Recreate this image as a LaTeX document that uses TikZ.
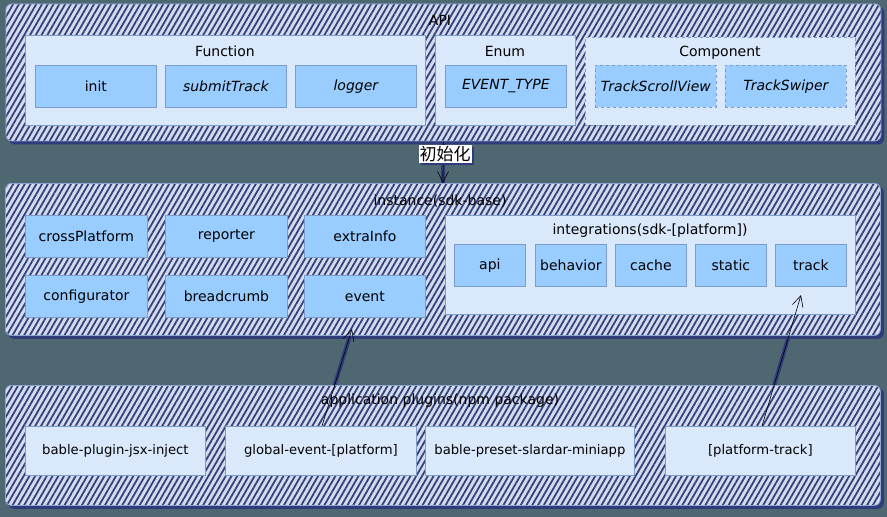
\documentclass[tikz,border=0pt]{standalone}
\usepackage{fontspec}
\setmainfont{DejaVu Sans}
\newfontfamily\cjk{Noto Sans CJK SC}
\usetikzlibrary{patterns.meta,shadows,arrows.meta}
\definecolor{bgc}{HTML}{4E6771}
\definecolor{hatchbg}{HTML}{D3DCEF}
\definecolor{hatchc}{HTML}{36417A}
\definecolor{contb}{HTML}{8EA5D0}
\definecolor{shadowc}{HTML}{2F3B7A}
\definecolor{grpf}{HTML}{DAE8FC}
\definecolor{grpb}{HTML}{7C9CCB}
\definecolor{itemf}{HTML}{99CCFF}
\pgfdeclarelayer{back}
\pgfdeclarelayer{bg}
\pgfsetlayers{back,bg,main}
\newcommand{\fs}[1]{\fontsize{#1}{#1}\selectfont}
\tikzset{
  cont/.style={general shadow={shadow xshift=3pt,shadow yshift=-3pt,fill=shadowc,draw=shadowc,line width=1pt},
    preaction={fill=hatchbg}, draw=contb, line width=0.8pt, rounded corners=6pt,
    pattern={Lines[angle=60,distance=5pt,line width=1.8pt]}, pattern color=hatchc,
    anchor=north west, inner sep=0pt},
  grp/.style={draw=grpb, fill=grpf, line width=0.8pt, anchor=north west, inner sep=0pt},
  item/.style={draw=grpb, fill=itemf, line width=0.8pt, anchor=north west, inner sep=0pt, minimum height=42pt},
  aitem/.style={draw=grpb, fill=grpf, line width=0.8pt, anchor=north west, inner sep=0pt, minimum height=49pt, font=\fs{13.2}},
  ttl/.style={inner sep=1pt},
  arr/.style={draw=black, line width=0.6pt, -{Straight Barb[length=11pt,width=11pt]}},
  ashadow/.style={draw=shadowc, line width=4pt, xshift=3.5pt},
}
\begin{document}
\begin{tikzpicture}[x=1pt,y=-1pt, font=\fs{14}]
\begin{pgfonlayer}{back}
\fill[bgc] (0,0) rectangle (887,517);
\end{pgfonlayer}
\useasboundingbox (0,0) rectangle (887,517);
% containers
\node[cont, minimum width=875pt, minimum height=137pt] (api) at (5,3) {};
\node[cont, minimum width=875pt, minimum height=152pt] (inst) at (5,183) {};
\node[cont, minimum width=875pt, minimum height=120pt] (app) at (5,385) {};
\node[ttl] (apit) at (440,20) {API};
\node[ttl] (instt) at (440,201) {instance(sdk-base)};
\node[ttl] (appt) at (440,401) {application plugins(npm package)};
% API groups
\node[grp, minimum width=400pt, minimum height=90pt] (func) at (25,35) {};
\node[ttl] (funct) at (225,51) {Function};
\node[grp, minimum width=140pt, minimum height=90pt] (enum) at (435,35) {};
\node[ttl] (enumt) at (505,51) {Enum};
\node[grp, dashed, minimum width=270pt, minimum height=88pt] (comp) at (585,37) {};
\node[ttl] (compt) at (720,53) {Component};
\node[item, minimum width=121pt] (init) at (35,65) {init};
\node[item, minimum width=121pt] (submit) at (165,65) {\itshape submitTrack};
\node[item, minimum width=121pt] (logger) at (295,65) {\itshape logger};
\node[item, minimum width=121pt] (evtype) at (445,65) {\itshape EVENT\_TYPE};
\node[item, dashed, minimum width=121pt] (tsv) at (595,65) {\itshape TrackScrollView};
\node[item, dashed, minimum width=121pt] (tsw) at (725,65) {\itshape TrackSwiper};
% instance
\node[item, minimum width=122pt] (cross) at (25,215) {crossPlatform};
\node[item, minimum width=122pt] (reporter) at (165,215) {reporter};
\node[item, minimum width=121pt] (extra) at (304,215) {extraInfo};
\node[item, minimum width=122pt] (config) at (25,275) {configurator};
\node[item, minimum width=122pt] (bread) at (165,275) {breadcrumb};
\node[item, minimum width=121pt] (event) at (304,275) {event};
\node[grp, minimum width=410pt, minimum height=99pt] (integ) at (445,215) {};
\node[ttl] (integt) at (650,231) {integrations(sdk-[platform])};
\node[item, minimum width=71pt] (iapi) at (454,244) {api};
\node[item, minimum width=71pt] (behav) at (535,244) {behavior};
\node[item, minimum width=71pt] (cache) at (615,244) {cache};
\node[item, minimum width=71pt] (static) at (695,244) {static};
\node[item, minimum width=71pt] (track) at (775,244) {track};
% application plugins
\node[aitem, minimum width=180pt] (jsx) at (25,426) {bable-plugin-jsx-inject};
\node[aitem, minimum width=191pt] (global) at (225,426) {global-event-[platform]};
\node[aitem, minimum width=209pt] (preset) at (425,426) {bable-preset-slardar-miniapp};
\node[aitem, minimum width=190pt] (ptrack) at (665,426) {[platform-track]};
% arrow targets
\coordinate (t1) at (352,329);
\coordinate (t2) at (801,295);
\coordinate (s1) at (322,426);
\coordinate (s2) at (762,426);
% arrow shadows
\begin{pgfonlayer}{bg}
\draw[ashadow] (api.south) -- (inst.north);
\draw[ashadow] (s1) -- (t1);
\draw[ashadow] (s2) -- (t2);
\end{pgfonlayer}
% arrows
\draw[arr] (api.south) -- (inst.north);
\draw[arr] (s1) -- (t1);
\draw[arr] (s2) -- (t2);
\node[fill=white, inner sep=1pt, general shadow={shadow xshift=2pt,shadow yshift=-2pt,fill=shadowc}, font=\cjk\fs{17}] (initl) at (445,154) {初始化};
\end{tikzpicture}
\end{document}
